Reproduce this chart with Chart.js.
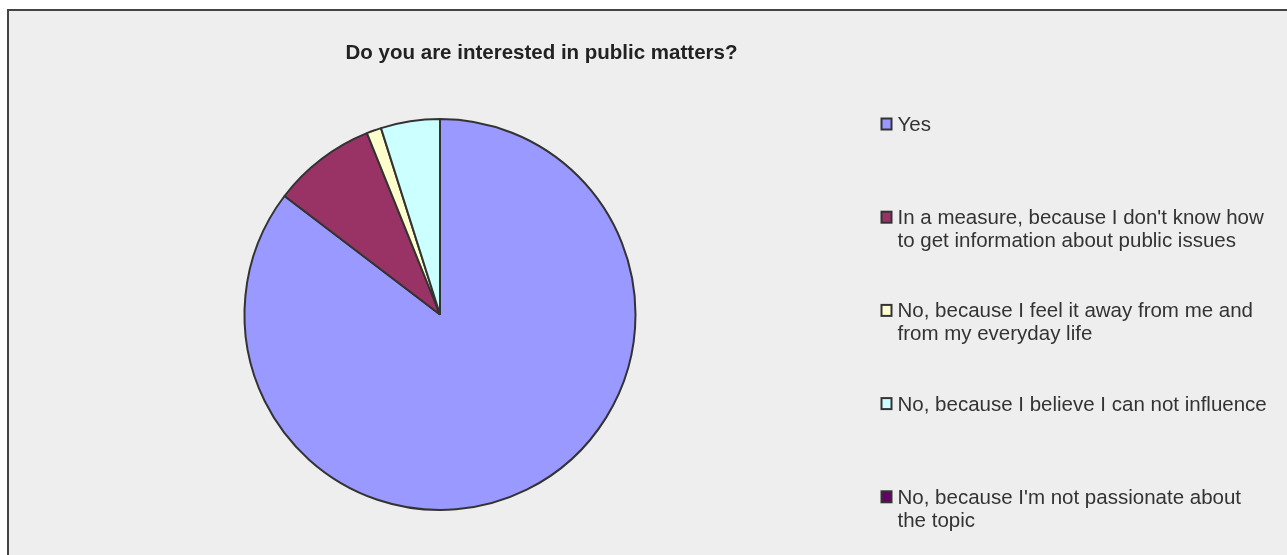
<!DOCTYPE html>
<html>
<head>
	<title>Interest in public matters</title>
	<style>
		body {margin: 0; background: #ffffff; overflow: hidden;}
		#frame {position: absolute; left: 7px; top: 9px; width: 1290px; height: 560px; background: #eeeeee; border-left: 2px solid #444; border-top: 2px solid #444;}
		#wrap {position: absolute; left: 0; top: 0; width: 1287px; height: 555px;}
	</style>
</head>
<body>
<div id="frame"></div>
<div id="wrap"><canvas id="myChart" width="1287" height="555"></canvas></div>

<script src="https://cdn.jsdelivr.net/npm/chart.js@4.4.0/dist/chart.umd.min.js"></script>
<script>

var chartTitle = "Do you are interested in public matters?";

// answers (legend lines as the original wraps them)
var answers = [
	["Yes"],
	["In a measure, because I don't know how", "to get information about public issues"],
	["No, because I feel it away from me and", "from my everyday life"],
	["No, because I believe I can not influence"],
	["No, because I'm not passionate about", "the topic"]
];

// number of respondents
var counts = [70, 7, 1, 4, 0];

var colors = ["#9999FF", "#993366", "#FFFFCC", "#CCFFFF", "#660066"];

// title + legend drawn like the spreadsheet one
var sheetDecor = {
	id: 'sheetDecor',
	afterDraw: function(chart) {
		var ctx = chart.ctx;
		ctx.save();
		ctx.fillStyle = '#222';
		ctx.font = 'bold 20.5px "Liberation Sans", Arial, sans-serif';
		ctx.textAlign = 'center';
		ctx.textBaseline = 'alphabetic';
		ctx.fillText(chartTitle, 541.5, 59);

		ctx.font = '20.5px "Liberation Sans", Arial, sans-serif';
		ctx.textAlign = 'left';
		for (var i = 0; i < answers.length; i++) {
			var base = 131 + i * 93.2;
			ctx.fillStyle = colors[i];
			ctx.fillRect(881.5, base - 12.5, 10, 11);
			ctx.strokeStyle = '#333';
			ctx.lineWidth = 2;
			ctx.strokeRect(881.5, base - 12.5, 10, 11);
			ctx.fillStyle = '#333';
			for (var j = 0; j < answers[i].length; j++) {
				ctx.fillText(answers[i][j], 897.5, base + j * 23);
			}
		}
		ctx.restore();
	}
};

var ctx = document.getElementById('myChart').getContext('2d');
var chart = new Chart(ctx, {
	type: 'pie',
	data: {
		labels: answers,
		datasets: [{
			data: counts,
			backgroundColor: colors,
			borderColor: '#333',
			borderWidth: 2
		}]
	},
	options: {
		responsive: false,
		animation: false,
		layout: {
			padding: {left: 243.5, top: 118, right: 650.5, bottom: 44}
		},
		plugins: {
			legend: {display: false},
			tooltip: {enabled: false}
		}
	},
	plugins: [sheetDecor]
});

</script>
</body>
</html>
